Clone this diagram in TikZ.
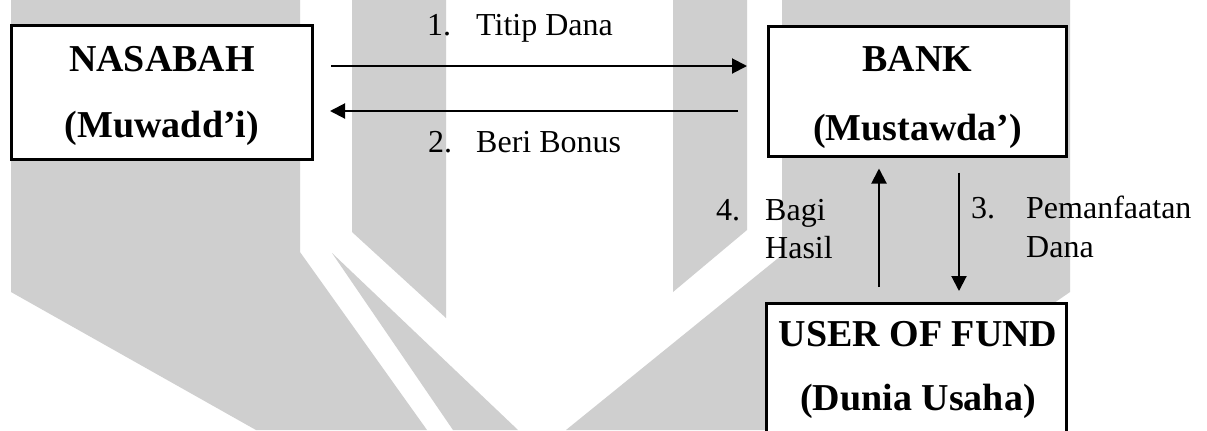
\documentclass[tikz,border=0pt]{standalone}
\usepackage{fontspec}
\setmainfont{Liberation Serif}
\usetikzlibrary{arrows.meta}
\definecolor{markgrey}{RGB}{207,207,207}
\begin{document}
\begin{tikzpicture}[x=1bp,y=-1bp,
  box/.style={draw, line width=3bp, fill=white, rectangle, inner sep=0pt, outer sep=0pt},
  flow/.style={line width=2bp, -{Triangle[length=15bp,width=15bp]}},
  head/.style={font=\bfseries\fontsize{38bp}{44bp}\selectfont, anchor=base, inner sep=0pt},
  lbl/.style={font=\fontsize{32bp}{38bp}\selectfont, anchor=base west, inner sep=0pt}]
\clip (0,0) rectangle (1207,430);
\fill[white] (0,0) rectangle (1207,430);

% background logo
\fill[markgrey] (11,0) -- (300,0) -- (300,252) -- (427,430) -- (256,430) -- (11,292) -- cycle;
\fill[markgrey] (352,0) -- (446,0) -- (446,318) -- (352,232) -- cycle;
\fill[markgrey] (332,253) -- (518,430) -- (453,430) -- cycle;
\fill[markgrey] (673,0) -- (747,0) -- (747,230) -- (673,292) -- cycle;
\fill[markgrey] (782,0) -- (1070,0) -- (1070,292) -- (870,430) -- (566,430) -- (782,255) -- cycle;

% parties
\node[box, minimum width=301bp, minimum height=134bp] (nas) at (162,92.5) {};
\node[box, minimum width=298bp, minimum height=130bp] (bank) at (917.5,91) {};
\node[box, minimum width=300bp, minimum height=140bp] (usr) at (916.5,373.5) {};

\node[head] (nasA) at (162,71) {NASABAH};
\node[head] (nasB) at (162,137) {(Muwadd’i)};
\node[head] (bankA) at (917.5,71) {BANK};
\node[head] (bankB) at (917.5,140) {(Mustawda’)};
\node[head] (usrA) at (918,346) {USER OF FUND};
\node[head] (usrB) at (918,410) {(Dunia Usaha)};

% flows
\draw[flow, shorten <=18.5bp, shorten >=21.5bp] (nas.east |- 0,66) -- (bank.west |- 0,66);
\draw[flow, shorten <=30.5bp, shorten >=17.5bp] (bank.west |- 0,111) -- (nas.east |- 0,111);
\draw[flow, shorten <=16.5bp, shorten >=12.5bp] (usr.north -| 879,0) -- (bank.south -| 879,0);
\draw[flow, shorten <=16.5bp, shorten >=12.5bp] (bank.south -| 959,0) -- (usr.north -| 959,0);

% flow labels
\node[lbl] (l1) at (427,35) {\makebox[49bp][l]{1.}Titip Dana};
\node[lbl] (l2) at (428,152) {\makebox[48bp][l]{2.}Beri Bonus};
\node[lbl] (l4) at (716,220) {\makebox[49bp][l]{4.}Bagi};
\node[lbl] (l4b) at (765,258) {Hasil};
\node[lbl] (l3) at (971,218) {\makebox[55bp][l]{3.}Pemanfaatan};
\node[lbl] (l3b) at (1026,257) {Dana};
\end{tikzpicture}
\end{document}
